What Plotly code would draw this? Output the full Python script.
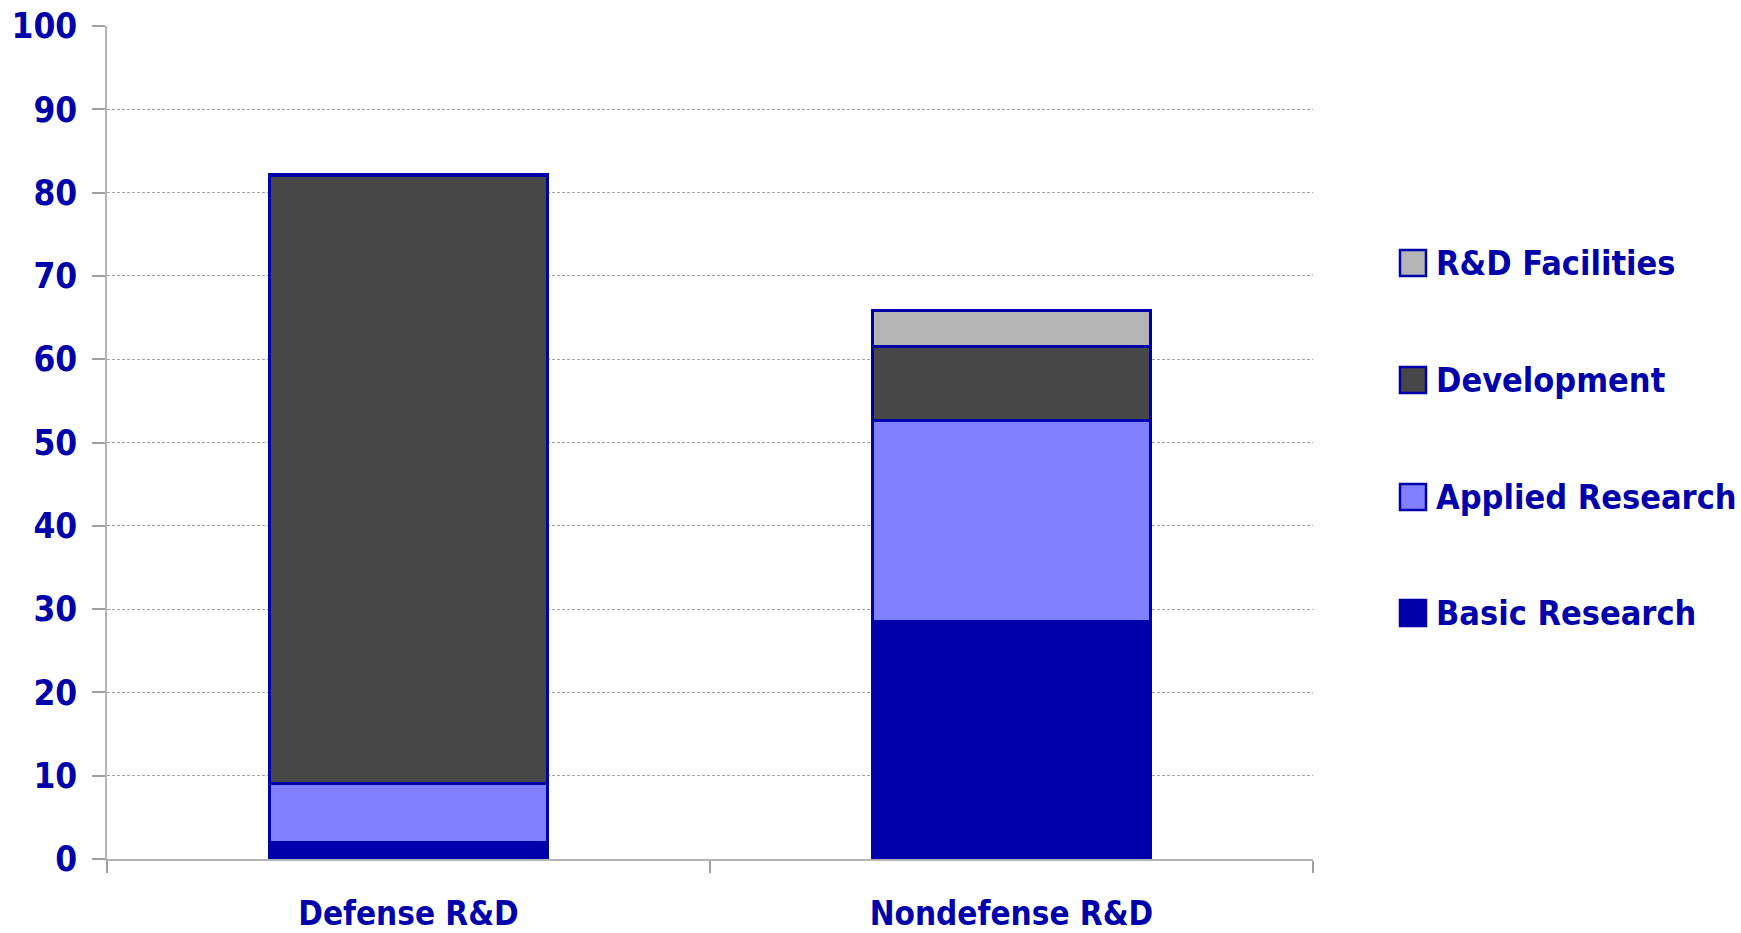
import plotly.graph_objects as go

categories = ["Defense R&D", "Nondefense R&D"]
series_names = ["Basic Research", "Applied Research", "Development", "R&D Facilities"]
basic = [2.0, 28.5]
applied = [7.1, 24.2]
development = [73.0, 8.8]
facilities = [0.1, 4.3]
series_values = [basic, applied, development, facilities]
colors = ["#0000AA", "#8080FF", "#474747", "#B4B4B4"]
y_ticks = [0, 10, 20, 30, 40, 50, 60, 70, 80, 90, 100]

BLUE = "#0000AA"
FONT = "DejaVu Sans Condensed, DejaVu Sans, sans-serif"

fig = go.Figure()
for name, vals, col in zip(series_names, series_values, colors):
    fig.add_trace(go.Bar(
        x=categories, y=vals, name=name,
        marker=dict(color=col, line=dict(color=BLUE, width=3)),
        width=0.46, showlegend=False,
    ))

W, H = 1741, 933
L, R, T, B = 107, W - 1313, 26, H - 859
pw, ph = W - L - R, H - T - B

# custom legend (large square swatches), positions in page pixels
legend_y_px = [613, 497, 380, 263]  # Basic, Applied, Development, Facilities
for name, col, ypx in zip(series_names, colors, legend_y_px):
    yc = ((H - B) - ypx) / ph
    x0 = (1400 - L) / pw
    x1 = (1426 - L) / pw
    half = 13 / ph
    fig.add_shape(type="rect", xref="paper", yref="paper",
                  x0=x0, x1=x1, y0=yc - half, y1=yc + half,
                  fillcolor=col, line=dict(color=BLUE, width=2.5))
    fig.add_annotation(xref="paper", yref="paper", x=(1434 - L) / pw, y=yc,
                       text=name, showarrow=False, xanchor="left", yanchor="middle",
                       font=dict(family=FONT, size=34, color=BLUE, weight="bold"))

fig.update_layout(
    width=W, height=H,
    margin=dict(l=L, r=R, t=T, b=B, pad=0, autoexpand=False),
    barmode="stack",
    plot_bgcolor="white", paper_bgcolor="white",
    bargap=0.54,
    font=dict(family=FONT, color=BLUE, size=33),
)
fig.update_yaxes(
    range=[0, 100], tickvals=y_ticks, ticks="outside", ticklen=13, tickcolor="#A0A0A0",
    tickwidth=1.5, showline=True, linecolor="#B4B4B4", linewidth=1.5,
    showgrid=True, gridcolor="#A0A0A0", gridwidth=1, griddash="3px,2px",
    zeroline=False, ticklabelstandoff=8, automargin=False, ticklabeloverflow="allow",
    tickfont=dict(family=FONT, size=35, color=BLUE, weight="bold"),
)
fig.update_xaxes(
    showline=True, linecolor="#B4B4B4", linewidth=1.5,
    ticks="outside", tickson="boundaries", ticklen=12, tickcolor="#A0A0A0", tickwidth=1.5,
    showgrid=False, ticklabelstandoff=25, automargin=False, ticklabeloverflow="allow",
    tickfont=dict(family=FONT, size=33, color=BLUE, weight="bold"),
)

fig.write_html(
    "out.html",
    config={"displayModeBar": False},
    post_script="document.body.style.margin='0';document.body.style.overflow='hidden';",
)
